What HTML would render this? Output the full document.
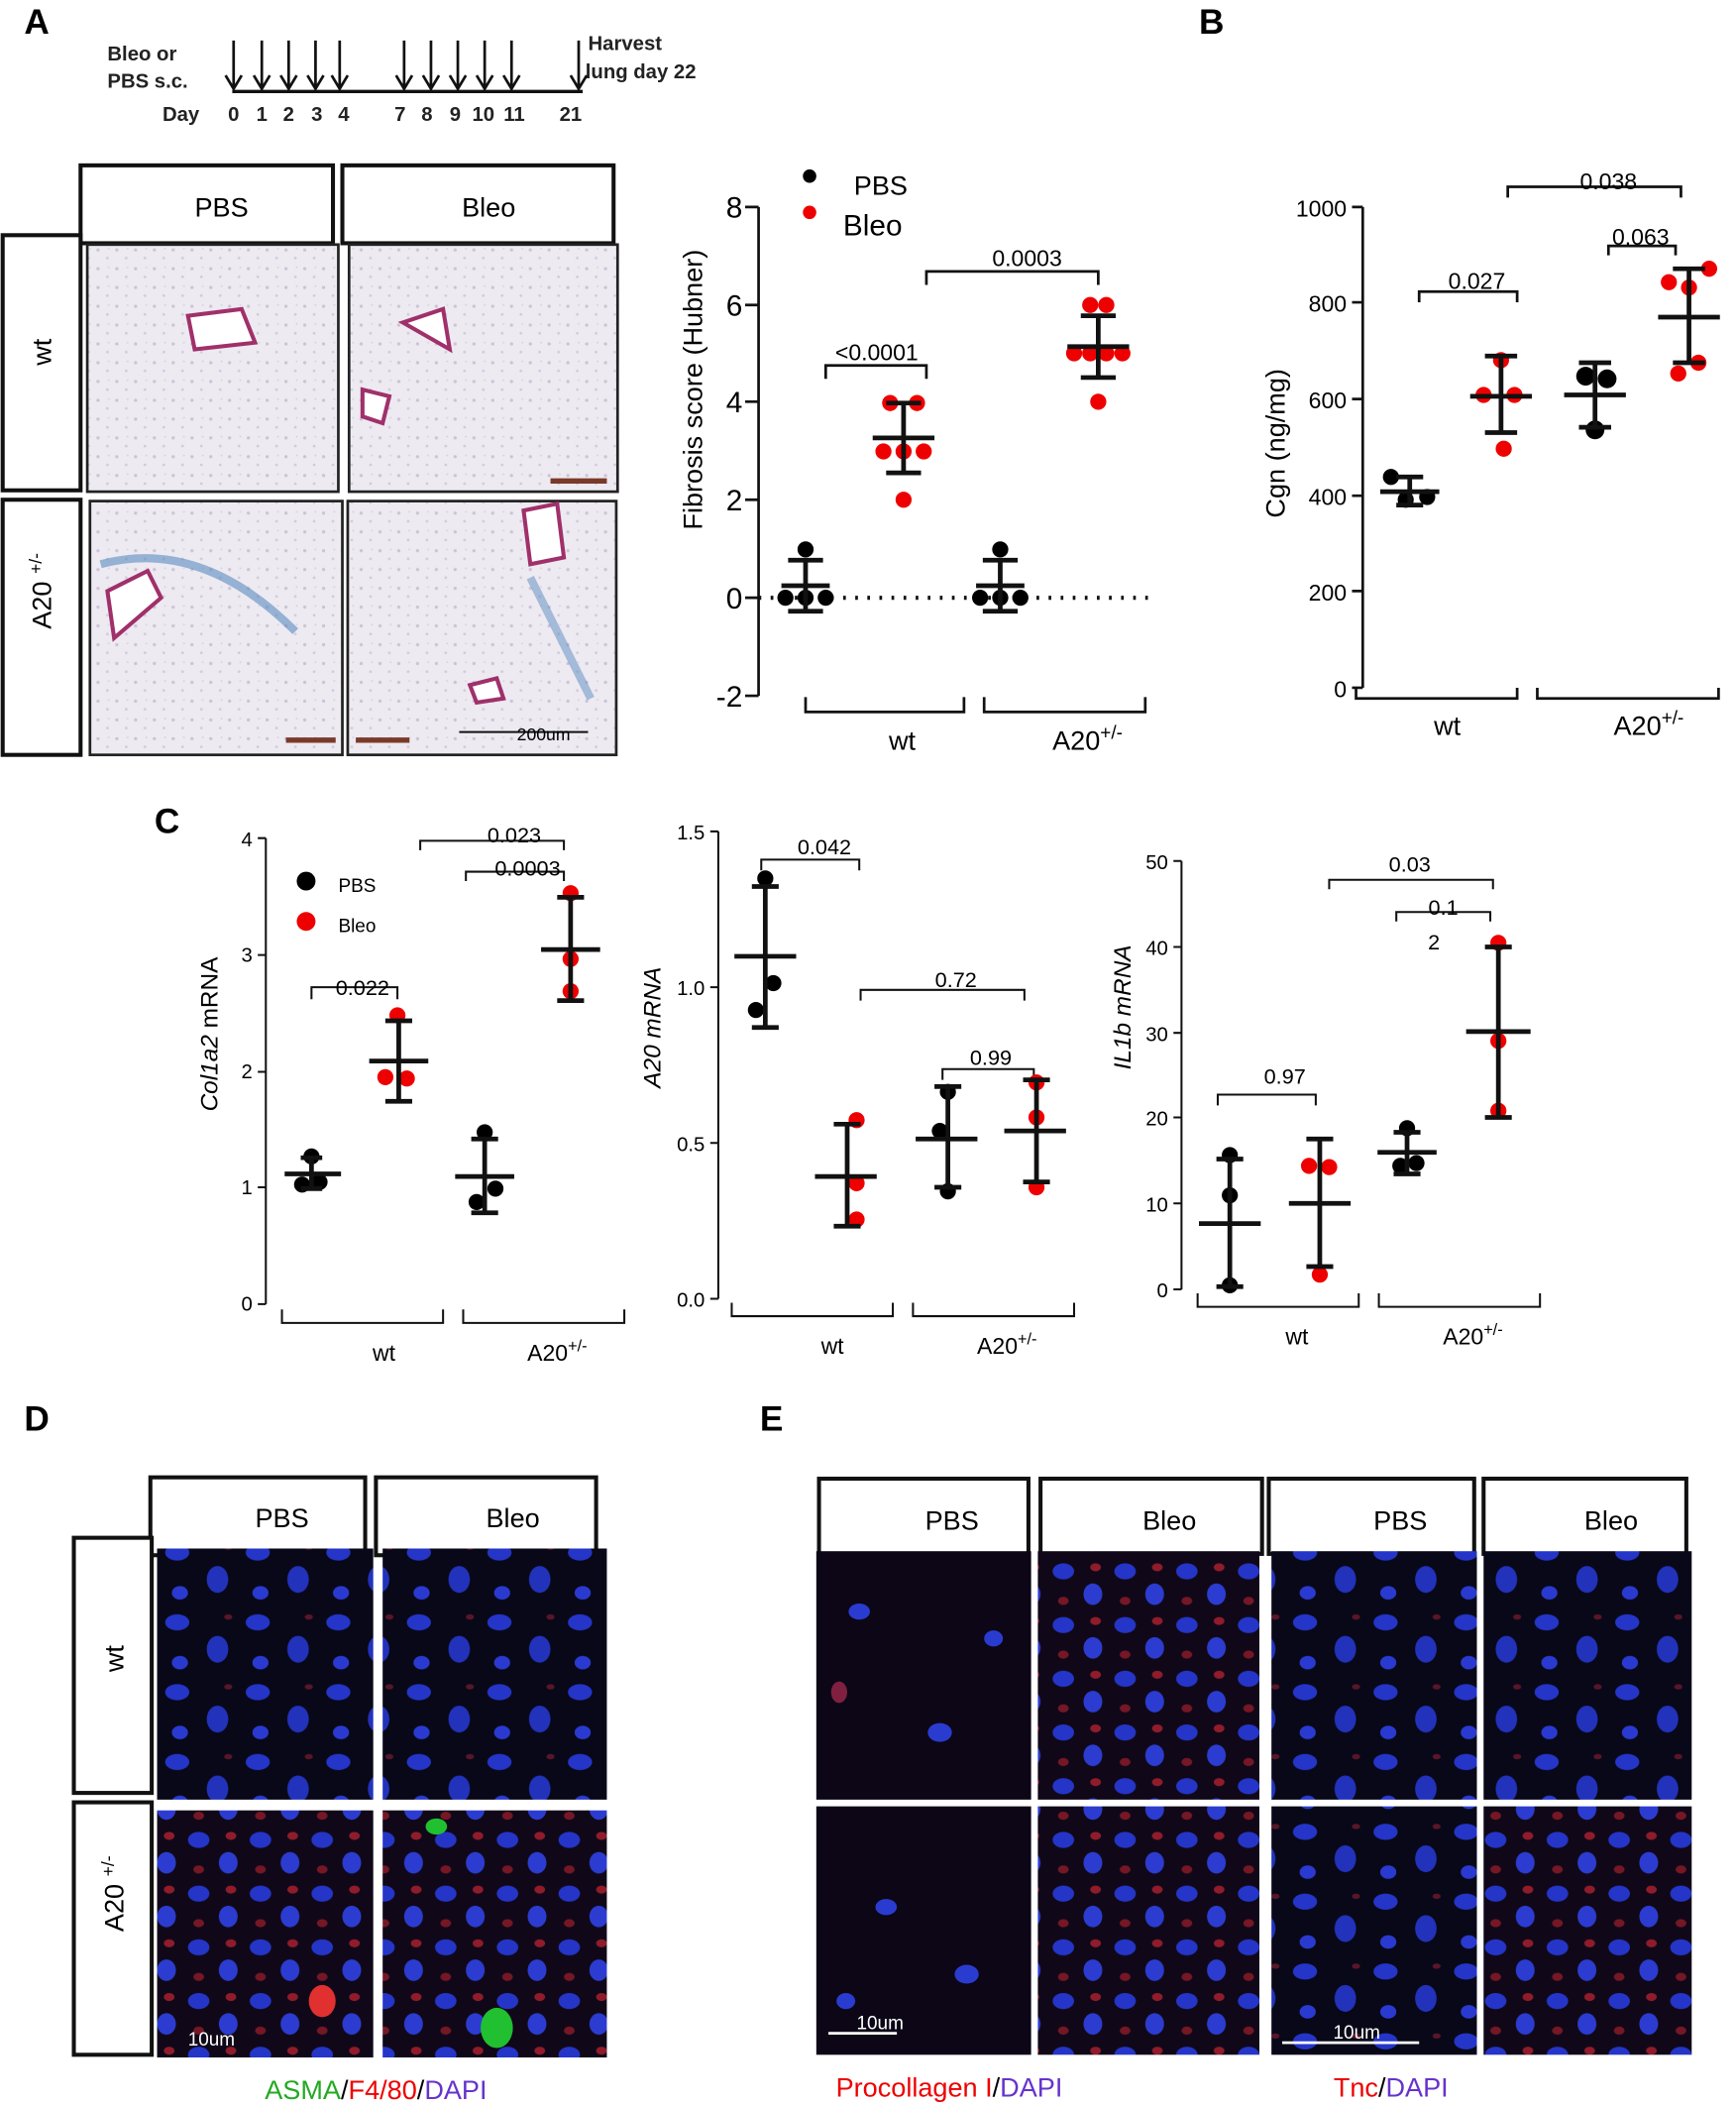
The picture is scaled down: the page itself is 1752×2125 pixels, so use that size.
<!DOCTYPE html>
<html><head><meta charset="utf-8"><style>html,body{margin:0;padding:0;background:#fff}svg{display:block}text{font-family:"Liberation Sans",sans-serif}</style></head><body>
<svg width="1752" height="2125" viewBox="0 0 1293 1568" xmlns="http://www.w3.org/2000/svg">
<defs>
<pattern id="tis" width="14" height="14" patternUnits="userSpaceOnUse"><rect width="14" height="14" fill="#edeaf1"/><circle cx="3" cy="4" r="1.2" fill="#cdc2d7"/><circle cx="10" cy="10" r="1" fill="#d3c9dc"/><circle cx="11" cy="3" r="0.7" fill="#dad2e3"/></pattern>
<pattern id="cells" width="60" height="52" patternUnits="userSpaceOnUse"><rect width="60" height="52" fill="#080818"/><ellipse cx="12" cy="12" rx="9" ry="6" fill="#2535c8"/><ellipse cx="42" cy="32" rx="8" ry="10" fill="#2232bb"/><ellipse cx="14" cy="42" rx="6" ry="5" fill="#2a3ad0"/><ellipse cx="50" cy="8" rx="3" ry="2" fill="#902030" opacity=".6"/></pattern>
<pattern id="cells2" width="46" height="40" patternUnits="userSpaceOnUse"><rect width="46" height="40" fill="#100818"/><ellipse cx="10" cy="10" rx="8" ry="6" fill="#2535c8"/><ellipse cx="32" cy="27" rx="7" ry="8" fill="#2c3cd0"/><ellipse cx="34" cy="7" rx="4" ry="3" fill="#b02030" opacity=".8"/><ellipse cx="10" cy="32" rx="4" ry="3" fill="#901a28" opacity=".8"/></pattern>
</defs>
<g font-weight="bold">
<text x="18" y="25" font-size="26">A</text><text x="893" y="25" font-size="26">B</text><text x="115" y="620" font-size="26">C</text><text x="18" y="1065" font-size="26">D</text><text x="566" y="1065" font-size="26">E</text>
<text x="80" y="45" font-size="15" fill="#222">Bleo or</text><text x="80" y="65" font-size="15" fill="#222">PBS s.c.</text>
<text x="121" y="90" font-size="15" fill="#222">Day</text>
<text x="438" y="37" font-size="15" fill="#222">Harvest</text><text x="436" y="58" font-size="15" fill="#222">lung day 22</text>
</g>
<line x1="173" y1="68" x2="434" y2="68" stroke="#111" stroke-width="2.5"/>
<g stroke="#111" stroke-width="2" fill="none">
<path d="M174 30V66M168 56L174 66L180 56M195 30V66M189 56L195 66L201 56M215 30V66M209 56L215 66L221 56M235 30V66M229 56L235 66L241 56M253 30V66M247 56L253 66L259 56M301 30V66M295 56L301 66L307 56M321 30V66M315 56L321 66L327 56M341 30V66M335 56L341 66L347 56M361 30V66M355 56L361 66L367 56M381 30V66M375 56L381 66L387 56M431 30V66M425 56L431 66L437 56"/>
</g>
<g font-size="15" font-weight="bold" fill="#222" text-anchor="middle"><text x="174" y="90">0</text><text x="195" y="90">1</text><text x="215" y="90">2</text><text x="236" y="90">3</text><text x="256" y="90">4</text><text x="298" y="90">7</text><text x="318" y="90">8</text><text x="339" y="90">9</text><text x="360" y="90">10</text><text x="383" y="90">11</text><text x="425" y="90">21</text></g>
<g stroke="#111" stroke-width="3" fill="#fff">
<rect x="60" y="123" width="188" height="58"/><rect x="255" y="123" width="202" height="58"/>
<rect x="2" y="175" width="58" height="190"/><rect x="2" y="372" width="58" height="190"/>
</g>
<g font-size="20" text-anchor="middle"><text x="165" y="161">PBS</text><text x="364" y="161">Bleo</text>
<text transform="translate(38,262) rotate(-90)">wt</text><text transform="translate(38,440) rotate(-90)">A20 <tspan font-size="13" dy="-7">+/-</tspan></text></g>
<g stroke="#222" stroke-width="2" fill="url(#tis)">
<rect x="65" y="182" width="187" height="184"/><rect x="260" y="182" width="200" height="184"/><rect x="67" y="373" width="188" height="189"/><rect x="259" y="373" width="200" height="189"/></g>
<g fill="#fff" stroke="#a0306a" stroke-width="3"><path d="M140 235l40-5 10 25-45 5z"/><path d="M270 290l20 5-5 20-15-5z"/><path d="M80 440l30-15 10 20-35 30z"/><path d="M390 380l25-5 5 40-25 5z"/><path d="M300 240l30-10 5 30z"/><path d="M350 510l20-5 5 15-20 3z"/></g>
<path d="M75 420 Q150 400 220 470" stroke="#5a8ac0" stroke-width="6" fill="none" opacity=".6"/>
<path d="M395 430 Q420 480 440 520" stroke="#5a8ac0" stroke-width="6" fill="none" opacity=".5"/>
<g stroke="#7a3a2a" stroke-width="4"><line x1="410" y1="358" x2="452" y2="358"/><line x1="213" y1="551" x2="250" y2="551"/><line x1="265" y1="551" x2="305" y2="551"/></g>
<line x1="342" y1="545" x2="438" y2="545" stroke="#111" stroke-width="1.5"/><text x="385" y="551" font-size="13">200um</text>
<g stroke="#111" stroke-width="2" fill="none">
<path d="M565 154V518M555 154H565M555 227H565M555 299H565M555 372H565M555 445H565M555 518H565"/>
<path d="M600 519V530H718V519M733 519V530H853V519"/>
<path d="M615 282V272H690V282M690 212V202H818V212"/>
</g>
<line x1="565" y1="445" x2="855" y2="445" stroke="#111" stroke-width="3" stroke-dasharray="2,7"/>
<g font-size="22" text-anchor="end"><text x="553" y="162">8</text><text x="553" y="235">6</text><text x="553" y="307">4</text><text x="553" y="380">2</text><text x="553" y="453">0</text><text x="553" y="526">-2</text></g>
<text transform="translate(523,290) rotate(-90)" font-size="20" text-anchor="middle">Fibrosis score (Hubner)</text>
<text x="672" y="558" font-size="20" text-anchor="middle">wt</text><text x="810" y="558" font-size="20" text-anchor="middle">A20<tspan font-size="14" dy="-8">+/-</tspan></text>
<text x="653" y="268" font-size="17" text-anchor="middle">&lt;0.0001</text><text x="765" y="198" font-size="17" text-anchor="middle">0.0003</text>
<circle cx="603" cy="131" r="5" fill="#000"/><circle cx="603" cy="158" r="5" fill="#e00"/><text x="636" y="145" font-size="20">PBS</text><text x="628" y="175" font-size="22">Bleo</text>
<g fill="#000"><circle cx="600" cy="409" r="6"/><circle cx="585" cy="445" r="6"/><circle cx="600" cy="445" r="6"/><circle cx="615" cy="445" r="6"/><circle cx="745" cy="409" r="6"/><circle cx="730" cy="445" r="6"/><circle cx="745" cy="445" r="6"/><circle cx="760" cy="445" r="6"/></g>
<g fill="#e00"><circle cx="663" cy="300" r="6"/><circle cx="683" cy="300" r="6"/><circle cx="658" cy="336" r="6"/><circle cx="673" cy="336" r="6"/><circle cx="688" cy="336" r="6"/><circle cx="673" cy="372" r="6"/><circle cx="812" cy="227" r="6"/><circle cx="824" cy="227" r="6"/><circle cx="800" cy="263" r="6"/><circle cx="812" cy="263" r="6"/><circle cx="824" cy="263" r="6"/><circle cx="836" cy="263" r="6"/><circle cx="818" cy="299" r="6"/></g>
<g stroke="#111" stroke-width="3.5"><path d="M600 417V455M587 417H613M587 455H613M582 436H618"/><path d="M745 417V455M732 417H758M732 455H758M727 436H763"/><path d="M673 300V352M660 300H686M660 352H686M650 326H696"/><path d="M818 235V281M805 235H831M805 281H831M795 258H841"/></g>
<g stroke="#111" stroke-width="2" fill="none">
<path d="M1015 154V512M1007 154H1015M1007 225H1015M1007 297H1015M1007 369H1015M1007 440H1015M1007 512H1015"/>
<path d="M1010 512V520H1130V512M1145 512V520H1280V512"/>
<path d="M1057 225V217H1130V225M1123 147V139H1252V147M1198 190V183H1248V190"/>
</g>
<g font-size="17" text-anchor="end" font-family="DejaVu Sans"><text x="1003" y="161">1000</text><text x="1003" y="232">800</text><text x="1003" y="304">600</text><text x="1003" y="376">400</text><text x="1003" y="447">200</text><text x="1003" y="519">0</text></g>
<text transform="translate(957,330) rotate(-90)" font-size="20" text-anchor="middle">Cgn (ng/mg)</text>
<text x="1078" y="547" font-size="20" text-anchor="middle">wt</text><text x="1228" y="547" font-size="20" text-anchor="middle">A20<tspan font-size="14" dy="-8">+/-</tspan></text>
<g font-size="17" text-anchor="middle"><text x="1100" y="215">0.027</text><text x="1198" y="141">0.038</text><text x="1222" y="182">0.063</text></g>
<g fill="#000"><circle cx="1036" cy="355" r="6"/><circle cx="1047" cy="372" r="6"/><circle cx="1063" cy="370" r="6"/><circle cx="1181" cy="280" r="7"/><circle cx="1197" cy="282" r="7"/><circle cx="1188" cy="320" r="7"/></g>
<g fill="#e00"><circle cx="1118" cy="268" r="6"/><circle cx="1105" cy="294" r="6"/><circle cx="1128" cy="294" r="6"/><circle cx="1120" cy="334" r="6"/><circle cx="1243" cy="210" r="6"/><circle cx="1273" cy="200" r="6"/><circle cx="1258" cy="214" r="6"/><circle cx="1250" cy="278" r="6"/><circle cx="1265" cy="270" r="6"/></g>
<g stroke="#111" stroke-width="3.5"><path d="M1050 355V376M1040 355H1060M1040 376H1060M1028 366H1072"/><path d="M1118 265V322M1106 265H1130M1106 322H1130M1095 295H1141"/><path d="M1188 270V318M1176 270H1200M1176 318H1200M1165 294H1211"/><path d="M1258 200V270M1246 200H1270M1246 270H1270M1235 236H1281"/></g>
<g stroke="#111" stroke-width="1.5" fill="none">
<path d="M198 624V971M192 624H198M192 711H198M192 798H198M192 884H198M192 971H198"/>
<path d="M210 975V985H330V975M345 975V985H465V975"/>
<path d="M232 744V735H296V744M313 633V626H420V633M347 656V649H420V656"/>
</g>
<g font-size="15" text-anchor="end" font-family="DejaVu Sans"><text x="188" y="630">4</text><text x="188" y="716">3</text><text x="188" y="803">2</text><text x="188" y="889">1</text><text x="188" y="976">0</text></g>
<text transform="translate(162,770) rotate(-90)" font-size="18" text-anchor="middle" font-style="italic">Col1a2 <tspan font-style="normal">mRNA</tspan></text>
<text x="286" y="1013" font-size="17" text-anchor="middle">wt</text><text x="415" y="1013" font-size="17" text-anchor="middle">A20<tspan font-size="12" dy="-7">+/-</tspan></text>
<g font-size="16" text-anchor="middle"><text x="270" y="741">0.022</text><text x="383" y="627">0.023</text><text x="393" y="652">0.0003</text></g>
<circle cx="228" cy="656" r="7" fill="#000"/><circle cx="228" cy="686" r="7" fill="#e00"/><text x="252" y="664" font-size="14">PBS</text><text x="252" y="694" font-size="14">Bleo</text>
<g fill="#000"><circle cx="232" cy="861" r="6"/><circle cx="225" cy="882" r="6"/><circle cx="238" cy="880" r="6"/><circle cx="361" cy="843" r="6"/><circle cx="355" cy="895" r="6"/><circle cx="369" cy="885" r="6"/></g>
<g fill="#e00"><circle cx="296" cy="756" r="6"/><circle cx="287" cy="802" r="6"/><circle cx="303" cy="803" r="6"/><circle cx="425" cy="665" r="6"/><circle cx="425" cy="714" r="6"/><circle cx="425" cy="738" r="6"/></g>
<g stroke="#111" stroke-width="3.5"><path d="M232 862V885M224 862H240M224 885H240M212 874H254"/><path d="M297 760V820M287 760H307M287 820H307M275 790H319"/><path d="M361 848V903M351 848H371M351 903H371M339 876H383"/><path d="M425 668V745M415 668H435M415 745H435M403 707H447"/></g>
<g stroke="#111" stroke-width="1.5" fill="none">
<path d="M535 619V967M529 619H535M529 735H535M529 851H535M529 967H535"/>
<path d="M545 970V980H665V970M680 970V980H800V970"/>
<path d="M567 648V640H640V648M641 745V737H763V745M702 804V796H770V804"/>
</g>
<g font-size="15" text-anchor="end" font-family="DejaVu Sans"><text x="525" y="625">1.5</text><text x="525" y="741">1.0</text><text x="525" y="857">0.5</text><text x="525" y="973">0.0</text></g>
<text transform="translate(492,765) rotate(-90)" font-size="18" text-anchor="middle" font-style="italic">A20 mRNA</text>
<text x="620" y="1008" font-size="17" text-anchor="middle">wt</text><text x="750" y="1008" font-size="17" text-anchor="middle">A20<tspan font-size="12" dy="-7">+/-</tspan></text>
<g font-size="16" text-anchor="middle"><text x="614" y="636">0.042</text><text x="712" y="735">0.72</text><text x="738" y="793">0.99</text></g>
<g fill="#000"><circle cx="570" cy="654" r="6"/><circle cx="576" cy="732" r="6"/><circle cx="563" cy="752" r="6"/><circle cx="706" cy="813" r="6"/><circle cx="700" cy="842" r="6"/><circle cx="706" cy="887" r="6"/></g>
<g fill="#e00"><circle cx="638" cy="834" r="6"/><circle cx="638" cy="881" r="6"/><circle cx="638" cy="908" r="6"/><circle cx="772" cy="806" r="6"/><circle cx="772" cy="832" r="6"/><circle cx="772" cy="884" r="6"/></g>
<g stroke="#111" stroke-width="3.5"><path d="M570 660V765M560 660H580M560 765H580M547 712H593"/><path d="M631 837V913M621 837H641M621 913H641M607 876H653"/><path d="M706 809V884M696 809H716M696 884H716M682 848H728"/><path d="M772 804V880M762 804H782M762 880H782M748 842H794"/></g>
<g stroke="#111" stroke-width="1.5" fill="none">
<path d="M880 641V960M874 641H880M874 705H880M874 769H880M874 832H880M874 896H880M874 960H880"/>
<path d="M892 963V973H1012V963M1027 963V973H1147V963"/>
<path d="M907 823V815H980V823M990 662V655H1112V662M1040 686V679H1110V686"/>
</g>
<g font-size="15" text-anchor="end" font-family="DejaVu Sans"><text x="870" y="647">50</text><text x="870" y="711">40</text><text x="870" y="775">30</text><text x="870" y="838">20</text><text x="870" y="902">10</text><text x="870" y="966">0</text></g>
<text transform="translate(842,750) rotate(-90)" font-size="18" text-anchor="middle" font-style="italic">IL1b mRNA</text>
<text x="966" y="1001" font-size="17" text-anchor="middle">wt</text><text x="1097" y="1001" font-size="17" text-anchor="middle">A20<tspan font-size="12" dy="-7">+/-</tspan></text>
<g font-size="16" text-anchor="middle"><text x="957" y="807">0.97</text><text x="1050" y="649">0.03</text><text x="1075" y="681">0.1</text><text x="1068" y="707">2</text></g>
<g fill="#000"><circle cx="916" cy="860" r="6"/><circle cx="916" cy="890" r="6"/><circle cx="916" cy="957" r="6"/><circle cx="1048" cy="840" r="6"/><circle cx="1043" cy="868" r="6"/><circle cx="1055" cy="866" r="6"/></g>
<g fill="#e00"><circle cx="975" cy="868" r="6"/><circle cx="990" cy="869" r="6"/><circle cx="983" cy="949" r="6"/><circle cx="1116" cy="702" r="6"/><circle cx="1116" cy="775" r="6"/><circle cx="1116" cy="827" r="6"/></g>
<g stroke="#111" stroke-width="3.5"><path d="M916 863V958M906 863H926M906 958H926M893 911H939"/><path d="M983 848V943M973 848H993M973 943H993M960 896H1006"/><path d="M1048 843V874M1038 843H1058M1038 874H1058M1026 858H1070"/><path d="M1116 705V832M1106 705H1126M1106 832H1126M1092 768H1140"/></g>
<g stroke="#111" stroke-width="3" fill="#fff">
<rect x="112" y="1100" width="160" height="58"/><rect x="280" y="1100" width="164" height="58"/>
<rect x="55" y="1145" width="58" height="190"/><rect x="55" y="1342" width="58" height="188"/>
<rect x="610" y="1101" width="156" height="56"/><rect x="775" y="1101" width="165" height="56"/><rect x="945" y="1101" width="153" height="56"/><rect x="1105" y="1101" width="151" height="56"/>
</g>
<g font-size="20" text-anchor="middle"><text x="210" y="1137">PBS</text><text x="382" y="1137">Bleo</text>
<text transform="translate(92,1235) rotate(-90)">wt</text><text transform="translate(92,1410) rotate(-90)">A20 <tspan font-size="13" dy="-7">+/-</tspan></text>
<text x="709" y="1139">PBS</text><text x="871" y="1139">Bleo</text><text x="1043" y="1139">PBS</text><text x="1200" y="1139">Bleo</text></g>
<rect x="117" y="1153" width="161" height="187" fill="url(#cells)"/><rect x="285" y="1153" width="167" height="187" fill="url(#cells)"/>
<rect x="117" y="1348" width="161" height="184" fill="url(#cells2)"/><rect x="285" y="1348" width="167" height="184" fill="url(#cells2)"/>
<ellipse cx="325" cy="1360" rx="8" ry="6" fill="#20c030"/><ellipse cx="370" cy="1510" rx="12" ry="15" fill="#20c030"/><ellipse cx="240" cy="1490" rx="10" ry="12" fill="#e03030"/>
<text x="140" y="1523" font-size="14" fill="#fff">10um</text>
<text x="280" y="1563" font-size="20" text-anchor="middle"><tspan fill="#2a2">ASMA</tspan>/<tspan fill="#e00">F4/80</tspan>/<tspan fill="#63c">DAPI</tspan></text>
<rect x="608" y="1155" width="160" height="185" fill="#0c0616"/><rect x="773" y="1155" width="165" height="185" fill="url(#cells2)"/><rect x="947" y="1155" width="153" height="185" fill="url(#cells)"/><rect x="1105" y="1155" width="155" height="185" fill="url(#cells)"/>
<rect x="608" y="1345" width="160" height="185" fill="#0c0616"/><rect x="773" y="1345" width="165" height="185" fill="url(#cells2)"/><rect x="947" y="1345" width="153" height="185" fill="url(#cells)"/><rect x="1105" y="1345" width="155" height="185" fill="url(#cells2)"/>
<g fill="#2a3bd0"><ellipse cx="640" cy="1200" rx="8" ry="6"/><ellipse cx="700" cy="1290" rx="9" ry="7"/><ellipse cx="660" cy="1420" rx="8" ry="6"/><ellipse cx="720" cy="1470" rx="9" ry="7"/><ellipse cx="630" cy="1490" rx="7" ry="6"/><ellipse cx="740" cy="1220" rx="7" ry="6"/><ellipse cx="625" cy="1260" rx="6" ry="8" fill="#802040"/></g>
<line x1="617" y1="1514" x2="668" y2="1514" stroke="#fff" stroke-width="2"/><text x="638" y="1511" font-size="14" fill="#fff">10um</text>
<line x1="955" y1="1521" x2="1057" y2="1521" stroke="#fff" stroke-width="2"/><text x="993" y="1518" font-size="14" fill="#fff">10um</text>
<text x="707" y="1561" font-size="20" text-anchor="middle"><tspan fill="#e00">Procollagen I</tspan>/<tspan fill="#63c">DAPI</tspan></text>
<text x="1036" y="1561" font-size="20" text-anchor="middle"><tspan fill="#e00">Tnc</tspan>/<tspan fill="#63c">DAPI</tspan></text>
</svg>
</body></html>
